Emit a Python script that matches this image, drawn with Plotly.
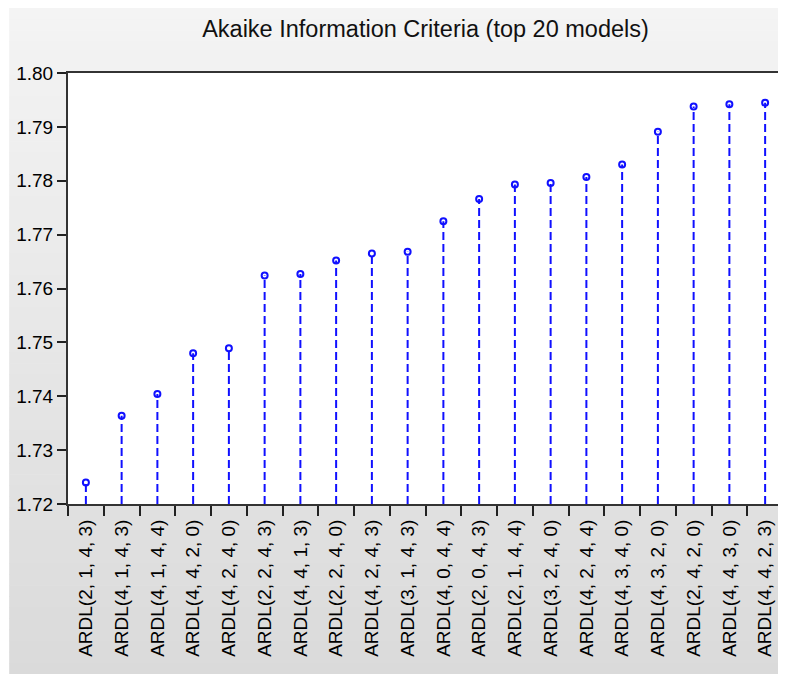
import plotly.graph_objects as go

models = [
    "ARDL(2, 1, 4, 3)", "ARDL(4, 1, 4, 3)", "ARDL(4, 1, 4, 4)", "ARDL(4, 4, 2, 0)",
    "ARDL(4, 2, 4, 0)", "ARDL(2, 2, 4, 3)", "ARDL(4, 4, 1, 3)", "ARDL(2, 2, 4, 0)",
    "ARDL(4, 2, 4, 3)", "ARDL(3, 1, 4, 3)", "ARDL(4, 0, 4, 4)", "ARDL(2, 0, 4, 3)",
    "ARDL(2, 1, 4, 4)", "ARDL(3, 2, 4, 0)", "ARDL(4, 2, 4, 4)", "ARDL(4, 3, 4, 0)",
    "ARDL(4, 3, 2, 0)", "ARDL(2, 4, 2, 0)", "ARDL(4, 4, 3, 0)", "ARDL(4, 4, 2, 3)",
]
aic = [
    1.7240, 1.7364, 1.7404, 1.7480, 1.7489, 1.7624, 1.7627, 1.7652,
    1.7665, 1.7668, 1.7725, 1.7766, 1.7793, 1.7796, 1.7807, 1.7830,
    1.7891, 1.7938, 1.7942, 1.7945,
]
y_ticks = [1.72, 1.73, 1.74, 1.75, 1.76, 1.77, 1.78, 1.79, 1.80]
y_min, y_max = 1.72, 1.80
title = "Akaike Information Criteria (top 20 models)"

BLUE = "#1010ff"
FONT = "Liberation Sans, Arial, sans-serif"

# stems built from the data (base -> value, separated by None)
stem_x, stem_y = [], []
for m, v in zip(models, aic):
    stem_x += [m, m, None]
    stem_y += [y_min, v, None]

fig = go.Figure()
fig.add_trace(go.Scatter(
    x=stem_x, y=stem_y, mode="lines",
    line=dict(color=BLUE, width=2, dash="8px,4px"),
    hoverinfo="skip", showlegend=False,
))
fig.add_trace(go.Scatter(
    x=models, y=aic, mode="markers",
    marker=dict(symbol="circle-open", size=6, color=BLUE, line=dict(width=2, color=BLUE)),
    showlegend=False,
))

# figure geometry (page body adds an 8px offset)
W, H = 778, 667
ml, mr, mt, mb = 60, 1, 65, 171
pw, ph = W - ml - mr, H - mt - mb

def px2x(px):
    return (px - ml) / pw

def py2y(py):
    return (H - mb - py) / ph

# gradient gray background (decorative bands)
shapes = []
top_py, bot_py = 0, 666
n = 60
c0, c1 = 0xF4, 0xDA
for i in range(n):
    a = top_py + (bot_py - top_py) * i / n
    b = top_py + (bot_py - top_py) * (i + 1) / n + 0.6
    c = round(c0 + (c1 - c0) * (i + 0.5) / n)
    col = f"#{c:02x}{c:02x}{c:02x}"
    shapes.append(dict(type="rect", xref="paper", yref="paper",
                       x0=px2x(1), x1=px2x(W + 1), y0=py2y(min(b, bot_py)), y1=py2y(a),
                       fillcolor=col, line=dict(width=0), layer="below"))
# white plot area
shapes.append(dict(type="rect", xref="paper", yref="paper", x0=0, x1=1, y0=0, y1=1,
                   fillcolor="white", line=dict(width=0), layer="below"))

fig.update_layout(
    width=W, height=H,
    margin=dict(l=ml, r=mr, t=mt, b=mb),
    paper_bgcolor="white", plot_bgcolor="white",
    font=dict(family=FONT, size=19, color="black"),
    title=dict(text=title, x=0.5, xref="paper", xanchor="center",
               y=1 - 21 / H, yref="container", yanchor="middle",
               font=dict(family=FONT, size=23.5, color="#111")),
    shapes=shapes,
    showlegend=False,
)
fig.update_xaxes(
    type="category", categoryorder="array", categoryarray=models,
    range=[-0.5, len(models) - 0.5],
    tickangle=-90, ticks="outside", tickson="boundaries", ticklen=10, tickwidth=2,
    ticklabelstandoff=6,
    tickcolor="#222", showline=True, linecolor="#333", linewidth=2, mirror=True,
    showgrid=False, zeroline=False, tickfont=dict(family=FONT, size=19, color="black"),
)
fig.update_yaxes(
    range=[y_min, y_max], tickvals=y_ticks, tickformat=".2f",
    ticks="outside", ticklen=9, tickwidth=2, tickcolor="#222",
    showline=True, linecolor="#333", linewidth=2, mirror=True,
    showgrid=False, zeroline=False, tickfont=dict(family=FONT, size=19, color="black"),
)

fig.write_html("out.html")
